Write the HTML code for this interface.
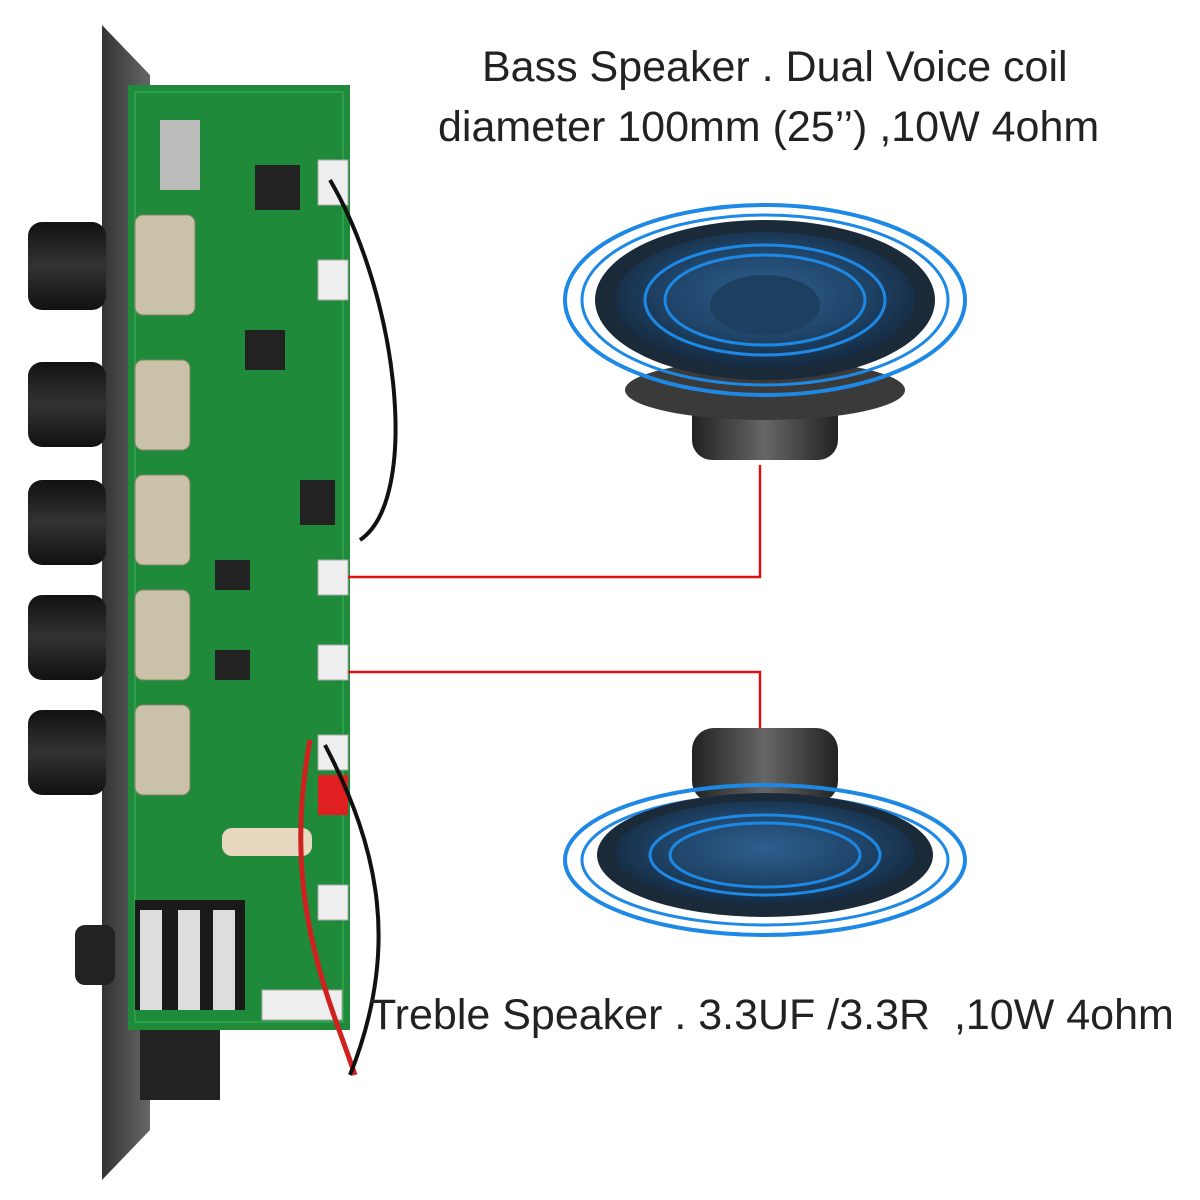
<!DOCTYPE html>
<html><head><meta charset="utf-8"><style>
html,body{margin:0;padding:0;background:#fff;}
body{width:1200px;height:1200px;position:relative;overflow:hidden;font-family:"Liberation Sans",sans-serif;}
.t{position:absolute;font-size:43px;color:#222;white-space:nowrap;}
</style></head><body>
<svg width="1200" height="1200" style="position:absolute;left:0;top:0">
<defs>
<radialGradient id="cone" cx="50%" cy="45%" r="55%"><stop offset="0" stop-color="#2f5f8f"/><stop offset="0.6" stop-color="#1f4468"/><stop offset="1" stop-color="#152a40"/></radialGradient>
<linearGradient id="mag" x1="0" x2="1"><stop offset="0" stop-color="#222"/><stop offset="0.5" stop-color="#666"/><stop offset="1" stop-color="#222"/></linearGradient>
<linearGradient id="plate" x1="0" x2="1"><stop offset="0" stop-color="#333"/><stop offset="1" stop-color="#666"/></linearGradient>
<linearGradient id="knob" x1="0" x2="0" y1="0" y2="1"><stop offset="0" stop-color="#111"/><stop offset="0.5" stop-color="#333"/><stop offset="1" stop-color="#111"/></linearGradient>
</defs>
<polygon points="102,25 150,75 150,1130 102,1180" fill="url(#plate)"/>
<g fill="url(#knob)">
<rect x="28" y="222" width="78" height="88" rx="14"/>
<rect x="28" y="362" width="78" height="85" rx="14"/>
<rect x="28" y="480" width="78" height="85" rx="14"/>
<rect x="28" y="595" width="78" height="85" rx="14"/>
<rect x="28" y="710" width="78" height="85" rx="14"/>
<rect x="75" y="925" width="40" height="60" rx="10" fill="#222"/>
</g>
<rect x="128" y="85" width="222" height="945" fill="#1f8a3a"/>
<rect x="135" y="92" width="208" height="930" fill="none" stroke="#2aa048" stroke-width="2"/>
<g fill="#c9c2a8" stroke="#8a826a">
<rect x="135" y="215" width="60" height="100" rx="8"/>
<rect x="135" y="360" width="55" height="90" rx="8"/>
<rect x="135" y="475" width="55" height="90" rx="8"/>
<rect x="135" y="590" width="55" height="90" rx="8"/>
<rect x="135" y="705" width="55" height="90" rx="8"/>
</g>
<g fill="#222"><rect x="255" y="165" width="45" height="45"/><rect x="245" y="330" width="40" height="40"/><rect x="300" y="480" width="35" height="45"/><rect x="215" y="560" width="35" height="30"/><rect x="215" y="650" width="35" height="30"/></g>
<rect x="160" y="120" width="40" height="70" fill="#bbb"/>
<rect x="135" y="900" width="110" height="110" fill="#1a1a1a"/>
<g fill="#ddd"><rect x="140" y="910" width="22" height="100"/><rect x="178" y="910" width="22" height="100"/><rect x="213" y="910" width="22" height="100"/></g>
<rect x="222" y="828" width="90" height="28" rx="10" fill="#e8d8c0"/>
<g fill="#eee" stroke="#aaa"><rect x="318" y="560" width="30" height="35"/><rect x="318" y="645" width="30" height="35"/><rect x="318" y="160" width="30" height="45"/><rect x="318" y="260" width="30" height="40"/><rect x="318" y="735" width="30" height="35"/><rect x="318" y="885" width="30" height="35"/><rect x="262" y="990" width="80" height="30"/></g>
<rect x="318" y="775" width="30" height="40" fill="#e02020"/>
<rect x="140" y="1030" width="80" height="70" fill="#222"/>
<path d="M330 180 C 400 300,420 500,360 540" stroke="#111" stroke-width="4" fill="none"/>
<path d="M310 740 C 280 900,330 1000,355 1075" stroke="#d02020" stroke-width="5" fill="none"/>
<path d="M325 745 C 380 850,400 950,350 1075" stroke="#111" stroke-width="4" fill="none"/>
<polyline points="348,577 760,577 760,465" fill="none" stroke="#e01010" stroke-width="2.5"/>
<polyline points="348,672 760,672 760,728" fill="none" stroke="#e01010" stroke-width="2.5"/>
<rect x="692" y="395" width="146" height="65" rx="20" fill="url(#mag)"/>
<ellipse cx="765" cy="390" rx="140" ry="30" fill="#3a3a3a"/>
<ellipse cx="765" cy="300" rx="200" ry="95" fill="none" stroke="#1e88e5" stroke-width="4"/>
<ellipse cx="765" cy="300" rx="183" ry="85" fill="none" stroke="#1e88e5" stroke-width="3"/>
<ellipse cx="765" cy="300" rx="170" ry="80" fill="#1b2a38"/>
<ellipse cx="765" cy="300" rx="150" ry="68" fill="url(#cone)"/>
<ellipse cx="765" cy="300" rx="120" ry="55" fill="none" stroke="#1e88e5" stroke-width="3"/>
<ellipse cx="765" cy="300" rx="100" ry="45" fill="none" stroke="#1e88e5" stroke-width="3"/>
<ellipse cx="765" cy="305" rx="55" ry="30" fill="#1d3f60"/>
<rect x="692" y="728" width="146" height="75" rx="22" fill="url(#mag)"/>
<ellipse cx="765" cy="860" rx="200" ry="75" fill="none" stroke="#1e88e5" stroke-width="4"/>
<ellipse cx="765" cy="860" rx="183" ry="65" fill="none" stroke="#1e88e5" stroke-width="3"/>
<ellipse cx="765" cy="855" rx="168" ry="62" fill="#1b2a38"/>
<ellipse cx="765" cy="853" rx="150" ry="52" fill="url(#cone)"/>
<ellipse cx="765" cy="855" rx="115" ry="40" fill="none" stroke="#1e88e5" stroke-width="3"/>
<ellipse cx="765" cy="855" rx="95" ry="32" fill="none" stroke="#1e88e5" stroke-width="3"/>
</svg>
<div class="t" style="left:482px;top:43px;">Bass Speaker . Dual Voice coil</div>
<div class="t" style="left:438px;top:103px;">diameter 100mm (25’’) ,10W 4ohm</div>
<div class="t" style="left:370px;top:991px;">Treble Speaker . 3.3UF /3.3R&nbsp; ,10W 4ohm</div>
</body></html>
